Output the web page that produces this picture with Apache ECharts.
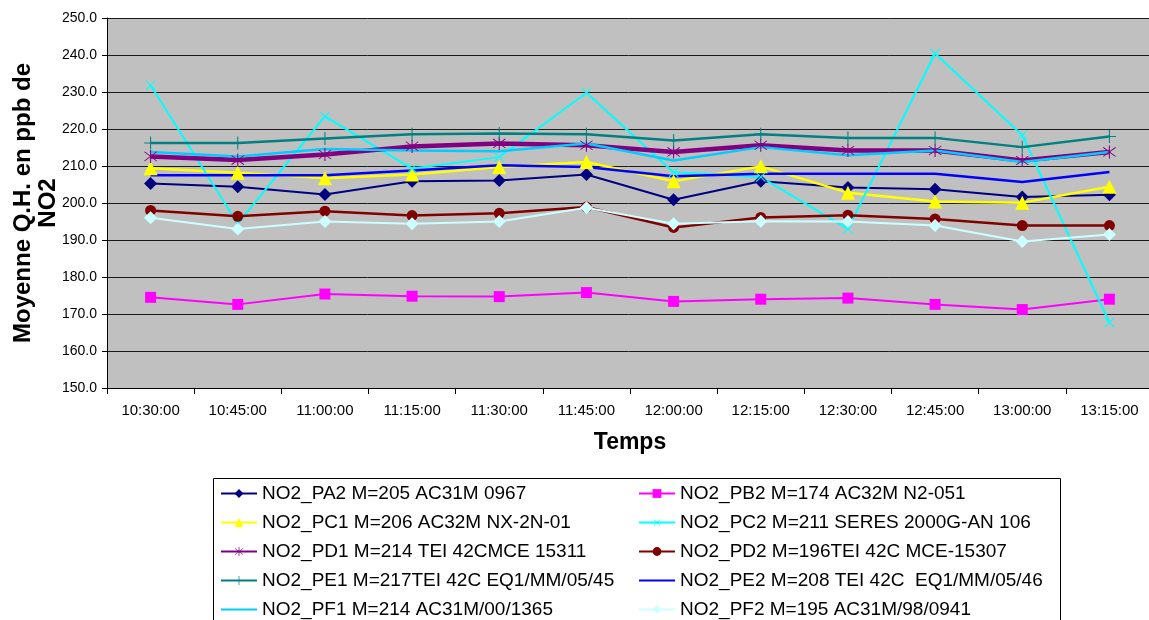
<!DOCTYPE html>
<html>
<head>
<meta charset="utf-8">
<script src="https://cdn.jsdelivr.net/npm/echarts@6/dist/echarts.min.js"></script>
<style>
html,body{margin:0;padding:0;background:#fff;}
#chart{width:1149px;height:620px;}
</style>
</head>
<body>
<div id="chart"></div>
<script>
var categories = ['10:30:00','10:45:00','11:00:00','11:15:00','11:30:00','11:45:00','12:00:00','12:15:00','12:30:00','12:45:00','13:00:00','13:15:00'];

var PA2 = [205.3, 204.4, 202.3, 205.9, 206.1, 207.7, 200.9, 205.9, 204.2, 203.7, 201.6, 202.2];
var PB2 = [174.5, 172.6, 175.4, 174.8, 174.7, 175.8, 173.4, 174.0, 174.3, 172.6, 171.2, 174.0];
var PC1 = [209.4, 208.2, 206.7, 207.7, 209.7, 211.1, 205.9, 209.9, 202.8, 200.4, 200.1, 204.4];
var PC2 = [231.8, 194.4, 223.4, 209.3, 212.4, 229.8, 208.3, 207.0, 193.0, 240.4, 218.3, 167.7];
var PD1 = [212.6, 211.6, 213.1, 215.3, 216.1, 215.6, 213.8, 215.6, 214.2, 214.2, 211.5, 213.8];
var PD2 = [198.0, 196.4, 197.8, 196.6, 197.2, 198.9, 193.4, 196.1, 196.7, 195.7, 193.9, 193.9];
var PE1 = [216.2, 216.2, 217.4, 218.6, 218.8, 218.6, 216.9, 218.6, 217.6, 217.6, 215.1, 218.0];
var PE2 = [207.5, 207.5, 207.5, 208.8, 210.2, 209.7, 207.2, 207.9, 207.9, 207.9, 205.7, 208.4];
var PF1 = [213.8, 212.6, 214.6, 214.2, 214.0, 216.1, 211.5, 215.1, 212.9, 214.2, 211.1, 213.8];
var PF2 = [196.0, 193.0, 195.0, 194.4, 195.0, 198.7, 194.4, 195.1, 195.0, 193.9, 189.6, 191.5];

var names = [
  'NO2_PA2 M=205 AC31M 0967',
  'NO2_PB2 M=174 AC32M N2-051',
  'NO2_PC1 M=206 AC32M NX-2N-01',
  'NO2_PC2 M=211 SERES 2000G-AN 106',
  'NO2_PD1 M=214 TEI 42CMCE 15311',
  'NO2_PD2 M=196TEI 42C MCE-15307',
  'NO2_PE1 M=217TEI 42C EQ1/MM/05/45',
  'NO2_PE2 M=208 TEI 42C  EQ1/MM/05/46',
  'NO2_PF1 M=214 AC31M/00/1365',
  'NO2_PF2 M=195 AC31M/98/0941'
];

var yTicks = {min: 150, max: 250, interval: 10};

var plusPath = 'path://M-0.8,-10L0.8,-10L0.8,-0.8L10,-0.8L10,0.8L0.8,0.8L0.8,10L-0.8,10L-0.8,0.8L-10,0.8L-10,-0.8L-0.8,-0.8Z';
var astPath = 'path://M-0.6,-10L0.6,-10L0.6,10L-0.6,10Z M-7.42,-6.58L-6.58,-7.42L7.42,6.58L6.58,7.42Z M-7.42,6.58L6.58,-7.42L7.42,-6.58L-6.58,7.42Z';

function mk(name, data, color, width, symbol, size, rotate) {
  return {
    name: name, type: 'line', data: data,
    symbol: symbol, symbolSize: size, symbolRotate: rotate || 0,
    showSymbol: symbol !== 'none',
    lineStyle: {color: color, width: width},
    itemStyle: {color: color, borderWidth: 0},
    emphasis: {disabled: true}
  };
}

var series = [
  mk(names[0], PA2, '#000080', 2, 'diamond', 13),
  mk(names[1], PB2, '#FF00FF', 2, 'rect', 11),
  mk(names[2], PC1, '#FFFF00', 2.5, 'triangle', 14),
  mk(names[3], PC2, '#00FFFF', 2, plusPath, 13, 45),
  mk(names[4], PD1, '#800080', 4.5, astPath, 13),
  mk(names[5], PD2, '#800000', 2.5, 'circle', 11),
  mk(names[6], PE1, '#008080', 2.5, plusPath, 13),
  mk(names[7], PE2, '#0000FF', 2.5, 'none', 0),
  mk(names[8], PF1, '#00CCFF', 2.5, 'none', 0),
  mk(names[9], PF2, '#CCFFFF', 2, 'diamond', 13)
];

var font = 'Liberation Sans, Arial, sans-serif';
var legendCommon = {
  orient: 'vertical', itemWidth: 36, itemHeight: 11, itemGap: 10,
  padding: 0, height: 300,
  textStyle: {fontFamily: font, fontSize: 19, color: '#000'},
  selectedMode: false
};
function noMark(n) { return {name: n, itemStyle: {opacity: 0}}; }

var chart = echarts.init(document.getElementById('chart'), null, {renderer: 'canvas'});
chart.setOption({
  animation: false,
  backgroundColor: '#fff',
  textStyle: {fontFamily: font},
  grid: {left: 107, top: 18, width: 1046, height: 370, show: true, backgroundColor: '#C0C0C0', borderWidth: 0,
         containLabel: false, outerBoundsMode: 'none'},
  xAxis: {
    type: 'category', data: categories, boundaryGap: true,
    name: 'Temps', nameLocation: 'middle', nameGap: 43, nameMoveOverlap: false,
    nameTextStyle: {fontFamily: font, fontSize: 23, fontWeight: 'bold', color: '#000'},
    axisLine: {show: true, lineStyle: {color: '#000', width: 1}},
    axisTick: {show: true, length: 6, lineStyle: {color: '#000'}},
    axisLabel: {fontFamily: font, fontSize: 15, color: '#000', margin: 15, interval: 0},
    splitLine: {show: false}
  },
  yAxis: {
    type: 'value', min: yTicks.min, max: yTicks.max, interval: yTicks.interval,
    name: 'Moyenne Q.H. en ppb de\nNO2', nameLocation: 'middle', nameRotate: 90, nameGap: 46, nameMoveOverlap: false,
    nameTextStyle: {fontFamily: font, fontSize: 24, fontWeight: 'bold', color: '#000', lineHeight: 25},
    axisLine: {show: true, lineStyle: {color: '#000', width: 1}},
    axisTick: {show: true, length: 5, lineStyle: {color: '#000'}},
    axisLabel: {fontFamily: font, fontSize: 14, color: '#000', margin: 10, formatter: function (v) { return v.toFixed(1); }},
    splitLine: {show: true, lineStyle: {color: '#1a1a1a', width: 1}}
  },
  legend: [
    Object.assign({left: 220, top: 484, data: [names[0], names[2], names[4], names[6], noMark(names[8])]}, legendCommon),
    Object.assign({left: 638, top: 484, data: [names[1], names[3], names[5], noMark(names[7]), names[9]]}, legendCommon)
  ],
  graphic: [{
    type: 'rect', silent: true,
    shape: {x: 213.5, y: 478.5, width: 847, height: 160},
    style: {fill: 'none', stroke: '#000', lineWidth: 1}
  }],
  series: series
});
</script>
</body>
</html>
